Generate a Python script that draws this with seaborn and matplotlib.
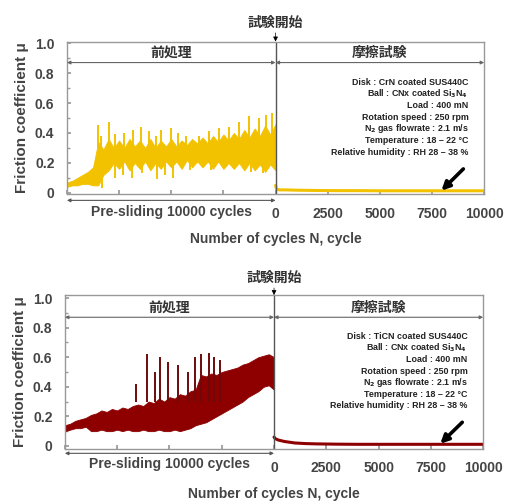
import matplotlib
matplotlib.use("Agg")
import matplotlib.pyplot as plt
import seaborn as sns
import pandas as pd

# ---- data ----
pre_x = list(range(-10000, 1, 250))

# CrN disk: band of the pre-sliding noise plus the thin spikes around it
crn_upper = [0.07, 0.08, 0.10, 0.12, 0.14, 0.17, 0.34, 0.29, 0.36, 0.30,
             0.35, 0.30, 0.36, 0.31, 0.35, 0.30, 0.36, 0.30, 0.35, 0.31,
             0.36, 0.31, 0.35, 0.32, 0.36, 0.33, 0.37, 0.33, 0.38, 0.34,
             0.39, 0.35, 0.40, 0.36, 0.42, 0.37, 0.43, 0.38, 0.45, 0.39, 0.46]
crn_lower = [0.04, 0.05, 0.05, 0.06, 0.06, 0.05, 0.05, 0.12, 0.15, 0.20,
             0.16, 0.21, 0.15, 0.20, 0.16, 0.21, 0.15, 0.20, 0.16, 0.21,
             0.17, 0.21, 0.16, 0.22, 0.17, 0.21, 0.17, 0.21, 0.16, 0.21,
             0.16, 0.20, 0.16, 0.20, 0.15, 0.20, 0.15, 0.19, 0.14, 0.19, 0.15]
crn_up_x = [-8500, -8350, -8000, -7700, -7280, -6850, -6450, -6070, -5750, -5480,
            -5000, -4660, -4300, -3690, -3200, -2720, -2230, -1750, -1260, -780, -480, -150]
crn_up_y = [0.45, 0.38, 0.47, 0.39, 0.40, 0.42, 0.44, 0.41, 0.38, 0.42,
            0.43, 0.40, 0.38, 0.38, 0.41, 0.43, 0.44, 0.47, 0.51, 0.50, 0.52, 0.53]
crn_dn_x = [-8300, -7700, -7300, -6900, -6400, -5700, -5300, -4900, -4100, -3100, -2000, -1200, -600]
crn_dn_y = [0.03, 0.10, 0.12, 0.10, 0.13, 0.09, 0.12, 0.10, 0.15, 0.15, 0.16, 0.14, 0.13]

ticn_upper = [0.14, 0.15, 0.17, 0.18, 0.19, 0.21, 0.22, 0.24, 0.23, 0.25,
              0.24, 0.26, 0.25, 0.27, 0.28, 0.27, 0.30, 0.29, 0.32, 0.30,
              0.33, 0.32, 0.35, 0.34, 0.37, 0.38, 0.48, 0.47, 0.49, 0.48,
              0.50, 0.51, 0.52, 0.53, 0.55, 0.56, 0.58, 0.60, 0.61, 0.62, 0.60]
ticn_lower = [0.10, 0.11, 0.12, 0.12, 0.13, 0.10, 0.10, 0.11, 0.10, 0.10,
              0.11, 0.10, 0.11, 0.10, 0.10, 0.11, 0.10, 0.10, 0.11, 0.10,
              0.10, 0.11, 0.10, 0.11, 0.12, 0.14, 0.15, 0.16, 0.18, 0.20,
              0.22, 0.24, 0.26, 0.28, 0.30, 0.33, 0.35, 0.37, 0.40, 0.41, 0.38]
ticn_up_x = [-6600, -6070, -5700, -5440, -5050, -4600, -4100, -3800, -3500, -3100, -2850, -2600]
ticn_up_y = [0.42, 0.62, 0.50, 0.60, 0.57, 0.55, 0.50, 0.60, 0.62, 0.63, 0.60, 0.58]

test_x = [0, 50, 200, 500, 1000, 1500, 2000, 3000, 4000, 5000, 6000, 7000, 8000, 9000, 10000]
crn_test = [0.05, 0.025, 0.02, 0.02, 0.018, 0.017, 0.016, 0.015, 0.015, 0.014, 0.014, 0.014, 0.014, 0.014, 0.014]
ticn_test = [0.06, 0.05, 0.04, 0.03, 0.02, 0.016, 0.014, 0.012, 0.011, 0.011, 0.011, 0.011, 0.011, 0.011, 0.011]

tick_vals = [0, 2500, 5000, 7500, 10000]
disks = ["CrN coated SUS440C", "TiCN coated SUS440C"]
colors = ["#F2C200", "#8E0000"]
spike_colors = ["#F2C200", "#6E0A0A"]
cond_lines = ["Ball : CNx coated Si$_3$N$_4$", "Load : 400 mN", "Rotation speed : 250 rpm",
              "N$_2$ gas flowrate : 2.1 m/s", "Temperature : 18 – 22 °C",
              "Relative humidity : RH 28 – 38 %"]

sns.set_theme(style="ticks")
plt.rcParams["font.family"] = ["Liberation Sans", "Noto Sans CJK JP"]
plt.rcParams["font.weight"] = "bold"
plt.rcParams["text.color"] = "#333333"
plt.rcParams["mathtext.default"] = "bf"
cjk = ["Noto Sans CJK JP", "DejaVu Sans"]
txt = "#333333"
grey = "#444444"

fig = plt.figure(figsize=(5.07, 5.01), dpi=100)
positions = [[0.132, 0.612, 0.823, 0.305], [0.128, 0.104, 0.825, 0.307]]
panels = [(crn_upper, crn_lower, crn_test, crn_up_x, crn_up_y, crn_dn_x, crn_dn_y),
          (ticn_upper, ticn_lower, ticn_test, ticn_up_x, ticn_up_y, [], [])]

for i, (up, lo, test, ux, uy, dx, dy) in enumerate(panels):
    ax = fig.add_axes(positions[i])
    c = colors[i]
    ylo = -0.01 if i == 0 else -0.02
    yhi = 1.01 if i == 0 else 1.02
    ax.fill_between(pre_x, lo, up, color=c, lw=0.6, edgecolor=c)
    ax.vlines(ux, [0.3] * len(ux), uy, color=spike_colors[i], lw=1.4)
    if dx:
        ax.vlines(dx, dy, [0.2] * len(dx), color=spike_colors[i], lw=1.4)
    df = pd.DataFrame({"x": test_x, "y": test})
    sns.lineplot(data=df, x="x", y="y", color=c, lw=2.2, ax=ax)
    ax.set_xlim(-10000, 10000)
    ax.set_ylim(ylo, yhi)

    # phase divider and phase headers
    ax.axvline(0, color="#555555", lw=1.0)
    for a, b in [(-10000, 0), (0, 10000)]:
        ax.annotate("", xy=(a, 0.87), xytext=(b, 0.87),
                    arrowprops=dict(arrowstyle="<|-|>", color="#666666", lw=0.8,
                                    mutation_scale=5, shrinkA=0, shrinkB=0))
    ax.text(-5000, 0.935, "前処理", family=cjk, ha="center", va="center",
            fontsize=10, color=txt)
    ax.text(5000, 0.935, "摩擦試験", family=cjk, ha="center", va="center",
            fontsize=10, color=txt)
    ax.annotate("試験開始", xy=(0, yhi), xytext=(0, 1.09),
                family=cjk, ha="center", va="bottom", fontsize=10, color=txt,
                annotation_clip=False,
                arrowprops=dict(arrowstyle="-|>", color="black", lw=0.5,
                                mutation_scale=7, shrinkA=0, shrinkB=0))

    # pre-sliding arrow under the axis
    ax.annotate("", xy=(-10000, -0.05), xytext=(0, -0.05), annotation_clip=False,
                arrowprops=dict(arrowstyle="<|-|>", color="#555555", lw=0.8,
                                mutation_scale=5, shrinkA=0, shrinkB=0))

    # test conditions
    lines = ["Disk : " + disks[i]] + cond_lines
    for k, line in enumerate(lines):
        ax.text(9250, 0.74 - k * 0.078, line, ha="right", va="center",
                fontsize=6.4, color="#222222")
    ax.annotate("", xy=(7950, 0.015), xytext=(9000, 0.16),
                arrowprops=dict(arrowstyle="-|>", color="black", lw=2.6,
                                mutation_scale=12, shrinkA=0, shrinkB=0))

    # axes styling
    ax.set_xticks([-10000, -7500, -5000, -2500] + tick_vals)
    ax.set_xticklabels([""] * 4 + [str(v) for v in tick_vals])
    ax.set_yticks([0, 0.2, 0.4, 0.6, 0.8, 1.0])
    ax.set_yticklabels(["0", "0.2", "0.4", "0.6", "0.8", "1.0"])
    ax.set_yticks([0.1, 0.3, 0.5, 0.7, 0.9], minor=True)
    ax.tick_params(axis="both", direction="in", color="#999999", length=3,
                   labelsize=10, labelcolor=grey, pad=9)
    ax.tick_params(axis="y", which="minor", direction="in", color="#999999", length=2)
    for s in ax.spines.values():
        s.set_color("#999999")
        s.set_linewidth(1.0)
    ax.text(-5000, -0.125, "Pre-sliding 10000 cycles", ha="center", va="center",
            fontsize=10, color=grey)
    ax.set_xlabel("Number of cycles N, cycle", fontsize=10, fontweight="bold",
                  labelpad=8, color=grey)
    ax.set_ylabel("Friction coefficient μ", fontsize=11, fontweight="bold",
                  labelpad=4, color=grey)

fig.savefig("out.png", dpi=100)
